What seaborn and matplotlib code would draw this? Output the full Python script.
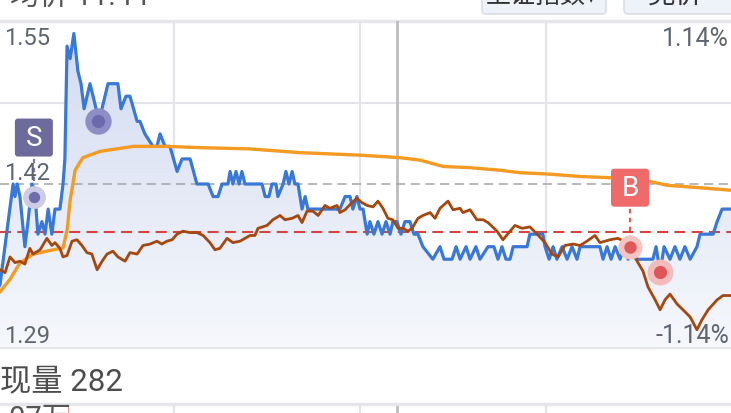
import numpy as np
import seaborn as sns
import matplotlib.pyplot as plt
from matplotlib.patches import FancyBboxPatch
from matplotlib.colors import LinearSegmentedColormap
from matplotlib.transforms import ScaledTranslation

# 分时 data, x = minutes after the open
price_t = [2.0, 3.9, 6.5, 8.1, 8.7, 9.4, 10.3, 11.9, 12.9, 14.2, 15.2, 16.1, 17.4, 18.4, 19.4,
           20.6, 21.6, 23.2, 24.2, 24.8, 25.5, 26.5, 27.7, 29.0, 30.0, 31.0, 32.9, 33.9, 35.8,
           38.7, 41.9, 42.9, 44.5, 45.8, 48.1, 49.0, 50.6, 53.2, 54.5, 55.5, 57.1, 58.7, 61.0,
           62.6, 65.2, 67.4, 71.0, 72.6, 74.2, 75.5, 77.4, 78.1, 79.0, 80.0, 81.0, 81.9, 82.9,
           88.4, 89.4, 90.6, 91.6, 92.9, 93.5, 95.2, 96.1, 97.1, 98.1, 99.0, 100.0, 101.3,
           102.3, 103.2, 104.5, 113.5, 115.2, 116.8, 117.7, 119.0, 120.0, 121.0, 122.3, 123.2,
           124.5, 125.8, 127.1, 128.4, 129.7, 130.6, 131.9, 133.2, 134.5, 136.1, 137.4, 138.7,
           140.3, 143.5, 145.8, 147.1, 149.7, 151.0, 152.3, 154.2, 155.5, 157.4, 158.7, 161.3,
           163.2, 164.5, 165.8, 167.1, 168.4, 169.4, 173.9, 174.8, 179.0, 179.7, 181.0, 182.3,
           183.5, 185.2, 186.8, 188.4, 190.0, 191.0, 197.4, 198.4, 199.7, 201.0, 202.3, 203.9,
           205.2, 206.5, 207.7, 209.0, 214.5, 215.5, 216.8, 218.1, 220.0, 221.6, 223.2, 224.8,
           226.5, 228.7, 229.7, 233.9, 235.2, 236.8, 239.7]
price_v = [11.33, 11.34, 11.39, 11.42, 11.41, 11.42, 11.41, 11.37, 11.39, 11.42, 11.41, 11.38,
           11.39, 11.38, 11.40, 11.38, 11.40, 11.40, 11.42, 11.44, 11.53, 11.52, 11.54, 11.51,
           11.50, 11.48, 11.50, 11.49, 11.47, 11.50, 11.50, 11.48, 11.49, 11.49, 11.47, 11.47,
           11.46, 11.45, 11.45, 11.46, 11.45, 11.45, 11.43, 11.44, 11.44, 11.42, 11.42, 11.41,
           11.41, 11.42, 11.42, 11.43, 11.42, 11.43, 11.42, 11.43, 11.42, 11.42, 11.41, 11.41,
           11.42, 11.42, 11.41, 11.42, 11.43, 11.42, 11.43, 11.42, 11.42, 11.40, 11.41, 11.40,
           11.40, 11.40, 11.41, 11.41, 11.40, 11.41, 11.40, 11.40, 11.38, 11.39, 11.38, 11.39,
           11.38, 11.39, 11.38, 11.39, 11.39, 11.38, 11.39, 11.39, 11.38, 11.38, 11.37, 11.36,
           11.37, 11.36, 11.36, 11.37, 11.36, 11.37, 11.36, 11.37, 11.36, 11.37, 11.37, 11.36,
           11.37, 11.36, 11.36, 11.37, 11.37, 11.38, 11.38, 11.37, 11.36, 11.37, 11.36, 11.37,
           11.36, 11.37, 11.36, 11.37, 11.37, 11.36, 11.37, 11.36, 11.37, 11.36, 11.37, 11.36,
           11.37, 11.36, 11.36, 11.37, 11.35, 11.37, 11.36, 11.37, 11.36, 11.37, 11.36, 11.37,
           11.38, 11.38, 11.39, 11.40, 11.40]

avg_t = [2.0, 3.9, 7.1, 10.3, 14.5, 20.0, 24.2, 25.5, 26.5, 28.1, 30.6, 36.1, 46.8, 57.7,
         68.4, 84.5, 100.6, 120.0, 132.9, 139.4, 146.8, 155.5, 165.2, 171.6, 180.3, 191.0,
         200.6, 213.5, 219.0, 229.7, 239.7]
avg_v = [11.332, 11.334, 11.344, 11.357, 11.364, 11.367, 11.369, 11.383, 11.407, 11.431,
         11.441, 11.446, 11.450, 11.450, 11.449, 11.448, 11.445, 11.443, 11.441, 11.439,
         11.434, 11.433, 11.431, 11.429, 11.428, 11.426, 11.425, 11.422, 11.419, 11.417, 11.415]

# 上证指数, % change
index_t = [2.0, 3.9, 5.5, 7.1, 8.7, 10.3, 11.9, 13.5, 14.5, 16.8, 19.0, 20.6, 21.6, 23.2, 24.2,
           25.5, 27.1, 28.7, 30.3, 31.9, 33.5, 35.2, 36.8, 38.4, 40.3, 41.9, 44.2, 45.8, 48.1,
           50.0, 52.3, 54.5, 56.1, 57.7, 59.4, 61.0, 62.9, 65.2, 67.4, 69.4, 71.6, 73.2, 74.8,
           77.1, 79.0, 81.3, 84.5, 86.1, 87.1, 90.0, 91.9, 94.2, 95.8, 98.1, 100.0, 101.3,
           102.9, 104.8, 106.5, 108.7, 110.3, 112.6, 113.5, 115.2, 117.4, 119.0, 120.6, 122.3,
           124.2, 125.8, 127.4, 129.0, 130.6, 132.3, 133.9, 135.5, 136.8, 138.7, 140.3, 142.6,
           144.2, 145.8, 148.4, 150.0, 152.3, 153.2, 155.5, 157.7, 159.7, 161.3, 164.2, 166.1,
           168.4, 170.0, 172.3, 174.8, 177.1, 179.7, 181.9, 183.9, 186.1, 188.7, 191.0, 193.2,
           195.8, 197.4, 200.6, 203.2, 207.1, 208.1, 209.4, 211.3, 212.9, 215.2, 216.8, 218.4,
           220.0, 222.3, 224.2, 226.5, 228.7, 230.3, 232.3, 235.2, 237.1, 239.7]
index_pct = [-0.58, -0.60, -0.62, -0.51, -0.55, -0.54, -0.56, -0.45, -0.49, -0.46, -0.38, -0.43,
             -0.41, -0.45, -0.51, -0.50, -0.40, -0.39, -0.43, -0.48, -0.49, -0.60, -0.54, -0.49,
             -0.47, -0.51, -0.54, -0.48, -0.49, -0.43, -0.42, -0.40, -0.42, -0.40, -0.39, -0.35,
             -0.33, -0.34, -0.34, -0.36, -0.41, -0.46, -0.45, -0.38, -0.41, -0.40, -0.36, -0.36,
             -0.31, -0.29, -0.25, -0.22, -0.25, -0.24, -0.22, -0.27, -0.19, -0.19, -0.22, -0.15,
             -0.17, -0.15, -0.20, -0.18, -0.13, -0.10, -0.13, -0.15, -0.16, -0.12, -0.17, -0.24,
             -0.25, -0.31, -0.31, -0.33, -0.31, -0.24, -0.22, -0.20, -0.24, -0.17, -0.12, -0.18,
             -0.17, -0.20, -0.18, -0.25, -0.25, -0.27, -0.33, -0.39, -0.33, -0.29, -0.31, -0.30,
             -0.35, -0.41, -0.49, -0.51, -0.43, -0.42, -0.43, -0.40, -0.36, -0.41, -0.39, -0.38,
             -0.42, -0.47, -0.54, -0.61, -0.72, -0.81, -0.88, -0.81, -0.77, -0.84, -0.88, -0.93,
             -1.02, -0.95, -0.88, -0.81, -0.78, -0.78]

pre_close = 11.42
cost_price = 11.382
price_range = (11.29, 11.55)
pct_range = (-1.14, 1.14)
x_view = (3.87, 239.68)
left_labels = ["1.55", "1.42", "1.29"]
right_labels = ["1.14%", "-1.14%"]

# buy / sell points
sig_t = [14.8, 35.5, 207.1, 216.8]
sig_p = [11.41, 11.47, 11.37, 11.35]
sig_kind = ["S", "s", "B", "b"]

vol_t = [25.8]
vol_v = [1.0]

sns.set_style("white")
plt.rcParams['font.family'] = ['Roboto', 'Noto Sans CJK SC', 'DejaVu Sans']

W, H = 731, 414
fig = plt.figure(figsize=(W / 100, H / 100), dpi=100)
fig.patch.set_facecolor('white')

def fx(px):
    return px / W

def fy(py):
    return 1 - py / H

ax = fig.add_axes([0, fy(348), 1, 326 / H])
ax2 = ax.twinx()

# gradient area under price
poly = ax.fill_between(price_t, price_v, price_range[0], color='none', lw=0)
cm = LinearSegmentedColormap.from_list('fill', ['#d1daf1', '#f6f8fc'])
grad = ax.imshow(np.linspace(0, 1, 256).reshape(-1, 1), cmap=cm, aspect='auto',
                 extent=[x_view[0], x_view[1], price_range[0], price_range[1]], zorder=1)
grad.set_clip_path(poly.get_paths()[0], transform=ax.transData)

# grid
for m in (60, 120, 180):
    ax.axvline(m, color='#e2e4ea', lw=1.5, zorder=0.5)
ax.axvline(131.9, color='#bdbdbd', lw=2, zorder=0.6)
for p in (11.485, 11.355):
    ax.axhline(p, color='#e2e4ea', lw=1.5, zorder=0.5)
ax.axhline(price_range[1], color='#e6e7eb', lw=2.5, clip_on=False, zorder=0.5)
ax.axhline(price_range[0], color='#e6e7eb', lw=2.5, clip_on=False, zorder=0.5)

ax.axhline(pre_close, color='#a4a4a4', lw=1.1, ls=(0, (6, 3.6)), zorder=2)
ax.axhline(cost_price, color='#d8433f', lw=1.5, ls=(0, (5.3, 3)), zorder=2)

sns.lineplot(x=price_t, y=price_v, ax=ax, color='#3a78d8', lw=2.3, estimator=None, sort=False, zorder=3)
sns.lineplot(x=avg_t, y=avg_v, ax=ax, color='#f59a22', lw=2.4, estimator=None, sort=False, zorder=3)
sns.lineplot(x=index_t, y=index_pct, ax=ax2, color='#a5470f', lw=2.0, estimator=None, sort=False, zorder=3)

ax.set_xlim(*x_view)
ax.set_ylim(*price_range)
ax2.set_ylim(*pct_range)
for a in (ax, ax2):
    a.set_xticks([])
    a.set_yticks([])
    a.set_xlabel('')
    a.set_ylabel('')
    for s in a.spines.values():
        s.set_visible(False)

# signal markers
styles = {
    "S": dict(halo='#cdcbe5', core='#6f6dab', hs=270, cs=66),
    "s": dict(halo='#8f8dc6', core='#6c6aae', hs=360, cs=90),
    "B": dict(halo='#f5c4c4', core='#e05858', hs=300, cs=80),
    "b": dict(halo='#f2bcbc', core='#df5558', hs=350, cs=90),
}
for t, p, k in zip(sig_t, sig_p, sig_kind):
    st = styles[k]
    ax2.scatter([t], [p], s=st['hs'], color=st['halo'], lw=0, transform=ax.transData, zorder=5)
    ax2.scatter([t], [p], s=st['cs'], color=st['core'], lw=0, transform=ax.transData, zorder=6)
    if k in ("S", "B"):
        box_c = '#6d6b9c' if k == "S" else '#ef6b6b'
        line_c = '#7b79b2' if k == "S" else '#e25a5a'
        tr = fig.dpi_scale_trans + ScaledTranslation(t, p, ax.transData)
        ax2.plot([0, 0], [0.07, 0.40], transform=tr, color=line_c, lw=1.6,
                 ls=(0, (2, 2)), zorder=4)
        ax2.add_patch(FancyBboxPatch((-0.19, 0.40), 0.38, 0.38, boxstyle='round,pad=0,rounding_size=0.03',
                                     transform=tr, fc=box_c, ec='none', zorder=7))
        ax2.text(0, 0.59, k, transform=tr, ha='center', va='center', color='white',
                 fontsize=20, zorder=8)

# axis value labels
lab_c = '#5f6670'
for txt, py in zip(left_labels, (45, 180, 343)):
    fig.text(fx(4), fy(py), txt, color=lab_c, fontsize=17, va='baseline', ha='left')
for txt, py in zip(right_labels, (46, 343)):
    fig.text(fx(729), fy(py), txt, color=lab_c, fontsize=18, va='baseline', ha='right')

# header
fig.text(fx(10), fy(6), '均价 11.44', color='#555555', fontsize=21, va='baseline')
fig.add_artist(FancyBboxPatch((4.82, (H - 15) / 100), 1.24, 0.4, boxstyle='round,pad=0,rounding_size=0.04',
                              transform=fig.dpi_scale_trans, fc='#eef2f9', ec='#d3d8e2', lw=1))
fig.add_artist(FancyBboxPatch((6.24, (H - 15) / 100), 1.4, 0.4, boxstyle='round,pad=0,rounding_size=0.04',
                              transform=fig.dpi_scale_trans, fc='#eef2f9', ec='#d3d8e2', lw=1))
fig.text(fx(486), fy(3), '上证指数', color='#333333', fontsize=18, va='baseline')
fig.text(fx(588), fy(3), '▾', color='#333333', fontsize=9, va='baseline')
fig.text(fx(648), fy(3), '竞价', color='#333333', fontsize=20, va='baseline')

# 现量 row
fig.text(fx(0), fy(391), '现量 282', color='#4d4d4d', fontsize=22.5, va='baseline')

# volume strip
axv = fig.add_axes([0, 0, 1, 9 / H])
axv.bar(vol_t, vol_v, width=0.45, color='#e0403c')
for m in (60, 120, 180):
    axv.axvline(m, color='#e2e4ea', lw=1.5, zorder=0.5)
axv.axvline(131.9, color='#bdbdbd', lw=2, zorder=0.6)
axv.axhline(1.0, color='#e6e7eb', lw=2.5, clip_on=False)
axv.set_xlim(*x_view)
axv.set_ylim(0, 1)
axv.set_xticks([])
axv.set_yticks([])
for s in axv.spines.values():
    s.set_visible(False)
fig.text(fx(-14), fy(405), '1.07万', color='#555555', fontsize=21, va='top')

fig.savefig('out.png', dpi=100)
